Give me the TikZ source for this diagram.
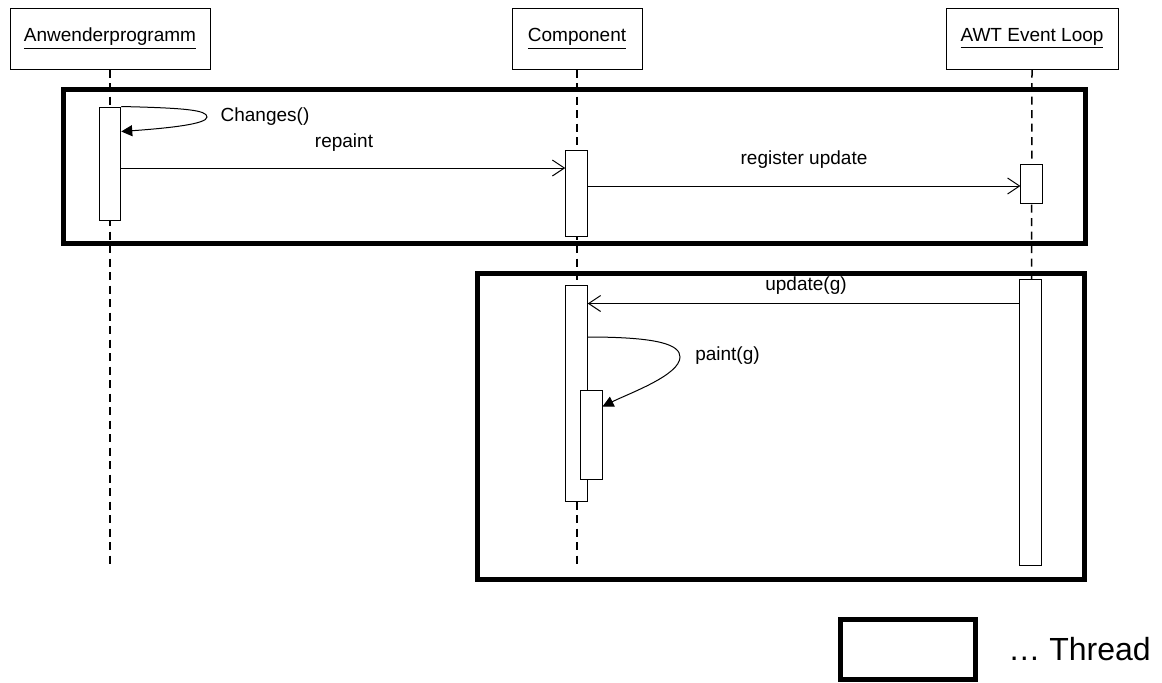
\documentclass[tikz,border=0pt]{standalone}
\usepackage{fontspec}
\setmainfont{Liberation Sans}
\usetikzlibrary{arrows.meta}

\begin{document}
\begin{tikzpicture}[x=0.5pt,y=-0.5pt,font=\fontsize{9.5}{11}\selectfont]
\tikzstyle{head}=[draw,line width=0.5pt,minimum height=30.5pt,inner sep=0pt]
\tikzstyle{bar}=[draw,fill=white,line width=0.5pt,minimum width=10.75pt,inner sep=0pt]
\tikzstyle{thread}=[draw,line width=2.5pt,inner sep=0pt]
\tikzstyle{life}=[line width=0.75pt,dash pattern=on 4pt off 2.75pt]
\tikzstyle{msg}=[line width=0.5pt,-{Straight Barb[length=6pt,width=8pt]}]
\tikzstyle{self}=[line width=0.5pt,-{Triangle[length=5.5pt,width=5.5pt]}]
\tikzstyle{lbl}=[inner sep=0pt]
\useasboundingbox (0,0) rectangle (1162,682);
% objects
\node[head,minimum width=100pt] (anw) at (110,38.5) {\underline{Anwenderprogramm}};
\node[head,minimum width=65pt] (comp) at (577,38.5) {\underline{Component}};
\node[head,minimum width=86pt] (awt) at (1032,38.5) {\underline{AWT Event Loop}};
% threads
\node[thread,minimum width=511pt,minimum height=77pt] (thr1) at (574,166) {};
\node[thread,minimum width=303.75pt,minimum height=153pt] (thr2) at (780.75,426) {};
% lifelines
\coordinate (anwEnd) at (110,566);
\coordinate (compEnd) at (577,567);
\coordinate (awtEnd) at (1031,566);
\draw[life] (anw.south) -- (anwEnd);
\draw[life] (comp.south) -- (compEnd);
\draw[life] (awt.south) -- (awtEnd);
% activations
\node[bar,minimum height=56.5pt] (a1) at (110,163.5) {};
\node[bar,minimum height=43pt] (c1) at (576.5,193) {};
\node[bar,minimum height=19.5pt] (e1) at (1031.7,183.5) {};
\node[bar,minimum height=108.3pt] (c2) at (576.5,393.3) {};
\node[bar,minimum height=44.3pt,minimum width=11pt] (c3) at (591,435) {};
\node[bar,minimum height=143.2pt,minimum width=11pt] (e2) at (1030,422.5) {};
% messages
\draw[self] (a1.north east) .. controls (185,108) and (207,110) .. (207,117) .. controls (207,124) and (170,128) .. (a1.east |- 0,131.5);
\node[lbl] (changes) at (265,117) {Changes()};
\draw[msg] (a1.east |- 0,168) -- (c1.west |- 0,168);
\node[lbl] (repaint) at (344,143) {repaint};
\draw[msg] (c1.east |- 0,186) -- (e1.west |- 0,186);
\node[lbl] (regupd) at (804,160) {register update};
\draw[msg] (e2.west |- 0,303.5) -- (c2.east |- 0,303.5);
\node[lbl] (update) at (806,286) {update(g)};
\draw[self] (c2.east |- 0,337) .. controls (660,337) and (680,345) .. (680,357) .. controls (680,375) and (630,393) .. (c3.east |- 0,406.5);
\node[lbl] (paint) at (727.5,356) {paint(g)};
% legend
\node[thread,minimum width=67.5pt,minimum height=30pt] (key) at (907.5,649) {};
\node[lbl,anchor=west,font=\fontsize{16}{19}\selectfont] (keytext) at (1008,649) {… Thread};
\end{tikzpicture}
\end{document}
